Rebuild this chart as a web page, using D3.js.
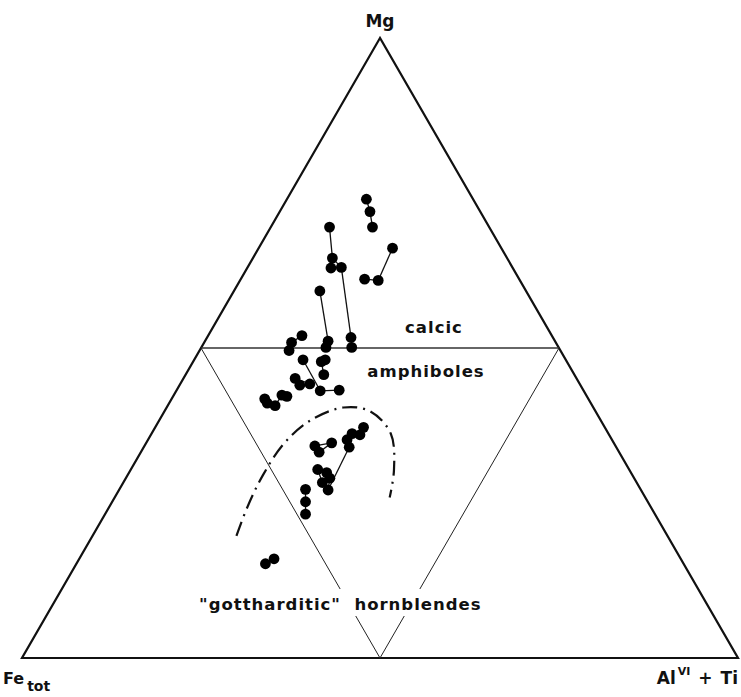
<!DOCTYPE html>
<html>
<head>
<meta charset="utf-8">
<script src="https://cdn.jsdelivr.net/npm/d3@7/dist/d3.min.js"></script>
<style>
  html, body { margin: 0; padding: 0; background: #fff; }
  svg { display: block; }
  .lbl { font-family: "DejaVu Sans", sans-serif; font-weight: bold; fill: #111; }
</style>
</head>
<body>
<svg id="chart" width="741" height="697"></svg>
<script>
// Amphibole compositions in the Mg – Fe(tot) – (Al VI + Ti) system, in percent.
const sampleIds = [
  1, 2, 3, 4, 5, 6, 7, 8, 9, 10,
  11, 12, 13, 14, 15, 16, 17, 18, 19, 20,
  21, 22, 23, 24, 25, 26, 27, 28, 29, 30,
  31, 32, 33, 34, 35, 36, 37, 38, 39, 40,
  41, 42, 43, 44, 45, 46, 47, 48, 49, 50
];
const mgPct = [
  74.0, 72.0, 69.5, 69.5, 64.5, 62.9, 63.0, 66.1, 60.9, 61.1,
  59.2, 51.1, 50.1, 51.7, 50.1, 52.0, 50.9, 49.6, 48.1, 43.1,
  43.2, 48.1, 47.8, 45.7, 45.1, 44.0, 44.2, 41.8, 41.1, 40.7,
  42.4, 42.2, 34.2, 34.7, 33.2, 37.2, 36.0, 36.2, 35.2, 34.0,
  27.1, 30.4, 29.9, 29.0, 28.3, 27.2, 25.2, 23.2, 15.2, 16.0
];
const alTiPct = [
  11.1, 12.6, 14.2, 8.2, 11.1, 11.7, 13.1, 18.7, 19.3, 17.3,
  12.0, 17.2, 17.4, 20.1, 21.0, 13.1, 12.2, 12.5, 15.2, 20.1,
  22.7, 18.3, 17.9, 19.3, 15.6, 16.8, 18.1, 13.0, 13.7, 15.0,
  15.1, 15.9, 23.8, 25.9, 24.9, 29.1, 29.2, 28.0, 27.8, 28.7,
  29.2, 26.1, 27.6, 28.5, 27.8, 26.0, 27.0, 28.0, 26.4, 27.2
];
const feTotPct = mgPct.map((m, i) => +(100 - m - alTiPct[i]).toFixed(1));

// Tie-lines joining analyses of the same specimen (pairs of sample ids).
const tieLines = [
  [1, 2], [2, 3],
  [4, 5], [5, 6], [5, 7], [7, 14], [14, 15],
  [8, 9], [9, 10],
  [11, 12], [12, 13],
  [16, 17], [17, 18],
  [19, 20], [20, 21],
  [22, 23], [23, 24],
  [25, 27], [26, 27],
  [28, 29], [29, 30], [30, 31], [31, 32],
  [33, 34], [35, 34], [33, 35],
  [36, 37], [37, 38], [38, 39], [39, 40], [40, 41],
  [42, 43], [43, 44], [42, 45], [45, 41], [44, 41],
  [46, 47], [47, 48],
  [49, 50]
];

// Dash-dot boundary of the "gottharditic" hornblende field (Mg %, AlVI+Ti %).
const boundaryMg   = [19.7, 24.4, 29.5, 34.6, 38.3, 40.4, 39.8, 36.2, 30.3, 25.9];
const boundaryAlTi = [20.1, 19.3, 18.9, 19.3, 21.1, 24.7, 28.7, 33.4, 36.8, 38.4];

// Field names
const fieldLabels = ["calcic", "amphiboles", "\"gottharditic\"", "hornblendes"];

// ---------------------------------------------------------------------------
const svg = d3.select("#chart");

// Triangle frame: apex (Mg), lower-left (Fe tot), lower-right (Al VI + Ti)
const apex = { x: 380, y: 38 };
const left = { x: 22, y: 658 };
const right = { x: 738, y: 658 };

// Ternary -> screen scales
const yMg  = d3.scaleLinear().domain([0, 100]).range([left.y, apex.y]);
const xMg  = d3.scaleLinear().domain([0, 100]).range([0, apex.x - left.x]);
const xAl  = d3.scaleLinear().domain([0, 100]).range([0, right.x - left.x]);
const project = (mg, al) => [left.x + xMg(mg) + xAl(al), yMg(mg)];

// Outer triangle
svg.append("path")
  .attr("d", d3.line()([project(100, 0), project(0, 0), project(0, 100)]) + "Z")
  .attr("fill", "none").attr("stroke", "#111").attr("stroke-width", 2.2)
  .attr("stroke-linejoin", "miter");

// Inner (mid-point) triangle
const mA = project(50, 0), mB = project(50, 50), mC = project(0, 50);
svg.append("line").attr("x1", mA[0]).attr("y1", mA[1]).attr("x2", mB[0]).attr("y2", mB[1])
  .attr("stroke", "#333").attr("stroke-width", 1.3);
svg.append("line").attr("x1", mA[0]).attr("y1", mA[1]).attr("x2", mC[0]).attr("y2", mC[1])
  .attr("stroke", "#222").attr("stroke-width", 1);
svg.append("line").attr("x1", mB[0]).attr("y1", mB[1]).attr("x2", mC[0]).attr("y2", mC[1])
  .attr("stroke", "#222").attr("stroke-width", 1);

// Field boundary
const boundaryPts = boundaryMg.map((m, i) => project(m, boundaryAlTi[i]));
svg.append("path")
  .attr("d", d3.line().curve(d3.curveCatmullRom.alpha(0.5))(boundaryPts))
  .attr("fill", "none").attr("stroke", "#111").attr("stroke-width", 2.2)
  .attr("stroke-dasharray", "15,6,2,6");

// Tie-lines
const idx = new Map(sampleIds.map((id, i) => [id, i]));
const pos = i => project(mgPct[i], alTiPct[i]);
svg.append("g").selectAll("line").data(tieLines).join("line")
  .attr("x1", d => pos(idx.get(d[0]))[0]).attr("y1", d => pos(idx.get(d[0]))[1])
  .attr("x2", d => pos(idx.get(d[1]))[0]).attr("y2", d => pos(idx.get(d[1]))[1])
  .attr("stroke", "#111").attr("stroke-width", 1.3);

// Analyses
svg.append("g").selectAll("circle").data(sampleIds).join("circle")
  .attr("cx", (d, i) => pos(i)[0]).attr("cy", (d, i) => pos(i)[1])
  .attr("r", 5.4).attr("fill", "#000");

// Field labels
const labelFont = { size: 16.5, spacing: 1 };
svg.append("text").attr("class", "lbl").attr("x", 434).attr("y", 333)
  .attr("text-anchor", "middle").attr("font-size", labelFont.size).attr("letter-spacing", labelFont.spacing)
  .text(fieldLabels[0]);
svg.append("text").attr("class", "lbl").attr("x", 426).attr("y", 377)
  .attr("text-anchor", "middle").attr("font-size", labelFont.size).attr("letter-spacing", labelFont.spacing)
  .text(fieldLabels[1]);

// White band behind the lower labels interrupts the inner triangle
svg.append("rect").attr("x", 200).attr("y", 589).attr("width", 290).attr("height", 27)
  .attr("fill", "#fff");
svg.append("text").attr("class", "lbl").attr("x", 270).attr("y", 610)
  .attr("text-anchor", "middle").attr("font-size", labelFont.size).attr("letter-spacing", labelFont.spacing)
  .text(fieldLabels[2]);
svg.append("text").attr("class", "lbl").attr("x", 418).attr("y", 610)
  .attr("text-anchor", "middle").attr("font-size", labelFont.size).attr("letter-spacing", labelFont.spacing)
  .text(fieldLabels[3]);

// Apex labels
svg.append("text").attr("class", "lbl").attr("x", 380).attr("y", 27)
  .attr("text-anchor", "middle").attr("font-size", 17).text("Mg");

const fe = svg.append("text").attr("class", "lbl").attr("x", 3).attr("y", 684)
  .attr("font-size", 16);
fe.append("tspan").text("Fe");
fe.append("tspan").attr("dx", 3).attr("dy", 7).attr("font-size", 14).text("tot");

const al = svg.append("text").attr("class", "lbl").attr("x", 738).attr("y", 684)
  .attr("text-anchor", "end").attr("font-size", 17);
al.append("tspan").text("Al");
al.append("tspan").attr("dx", 2).attr("dy", -9).attr("font-size", 11).text("VI");
al.append("tspan").attr("dx", 8).attr("dy", 9).text("+");
al.append("tspan").attr("dx", 8).text("Ti");
</script>
</body>
</html>
